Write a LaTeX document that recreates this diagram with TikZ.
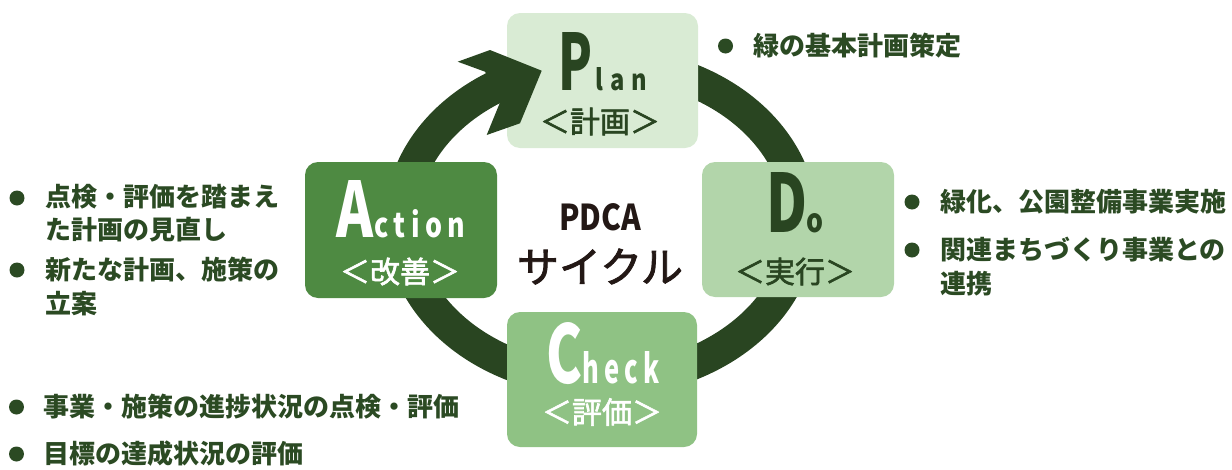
\documentclass[tikz,border=0pt]{standalone}
\usepackage{fontspec}
\setmainfont{Noto Sans CJK JP}
\newfontfamily\medfont[FakeBold=2]{Noto Sans CJK JP}
\usepackage{graphicx}
\definecolor{ringcol}{HTML}{294521}
\definecolor{planfill}{HTML}{D9EBD4}
\definecolor{dofill}{HTML}{B2D5AA}
\definecolor{checkfill}{HTML}{8FC284}
\definecolor{actfill}{HTML}{4E8A42}
\definecolor{darktext}{HTML}{294521}
\definecolor{bullettext}{HTML}{2B4A23}
\definecolor{centertext}{HTML}{231815}
\begin{document}
\begin{tikzpicture}[x=1pt,y=1pt,
  ring/.style={draw=ringcol, line width=33pt},
  pdcabox/.style={rounded corners=13pt, inner sep=0, draw=none},
  letter/.style={anchor=base west, inner sep=0, font=\bfseries},
  jlabel/.style={anchor=center, inner sep=0, font=\medfont\fontsize{30}{30}\selectfont},
  bline/.style={anchor=west, inner sep=0, text=bullettext, font=\bfseries\fontsize{26}{26}\selectfont},
  bdot/.style={circle, fill=bullettext, minimum size=15pt, inner sep=0}]
\useasboundingbox (0,0) rectangle (1232,-469);
% ring
\coordinate (ringstart) at (501,-84.3);
\draw[ring] (ringstart) arc[start angle=120, end angle=460, x radius=200, y radius=159];
% boxes
\node[pdcabox, fill=planfill, minimum width=191pt, minimum height=135pt] (plan) at (602.5,-80.5) {};
\node[pdcabox, fill=dofill, minimum width=192pt, minimum height=135pt] (do) at (798,-229.5) {};
\node[pdcabox, fill=actfill, minimum width=192pt, minimum height=136pt] (act) at (401,-230) {};
\node[pdcabox, fill=checkfill, minimum width=190pt, minimum height=135pt] (check) at (602,-379.5) {};
% arrowhead
\fill[ringcol] (457.7,-61.7) -- (490,-50) -- (541.7,-70.7) -- (520,-123.3) -- (486.7,-135) -- (501.7,-98.3) -- (485,-71.7) -- cycle;
% box texts
\node[letter, text=darktext] (pP) at (558,-90) {\resizebox{34pt}{58pt}{P}};
\node[letter, text=darktext] (pl) at (595,-90) {\resizebox{52pt}{23pt}{l\kern3pt a\kern3pt n}};
\node[jlabel, text=darktext] (pj) at (600,-121.5) {＜計画＞};
\node[letter, text=darktext] (dD) at (766,-232) {\resizebox{41pt}{60pt}{D}};
\node[letter, text=darktext] (dl) at (806.5,-232) {\resizebox{17pt}{19pt}{o}};
\node[jlabel, text=darktext] (dj) at (795,-271.5) {＜実行＞};
\node[letter, text=white] (aA) at (336.5,-237) {\resizebox{37pt}{57pt}{A}};
\node[letter, text=white] (al) at (374,-237) {\resizebox{91pt}{28pt}{c\kern2pt t\kern2pt i\kern2pt o\kern2pt n}};
\node[jlabel, text=white] (aj) at (400,-271.5) {＜改善＞};
\node[letter, text=white] (cC) at (546,-383) {\resizebox{36pt}{61pt}{C}};
\node[letter, text=white] (cl) at (582,-383) {\resizebox{77pt}{32pt}{h\kern2pt e\kern2pt c\kern2pt k}};
\node[jlabel, text=white] (cj) at (602,-412) {＜評価＞};
% centre
\node[anchor=base, inner sep=0, text=centertext, font=\bfseries] (pdca) at (600,-230) {\resizebox{82pt}{27pt}{PDCA}};
\node[anchor=center, inner sep=0, text=centertext, font=\medfont\fontsize{42}{42}\selectfont] (cycle) at (600,-266.5) {サイクル};
% bullets
\node[bdot] (b1) at (17,-198) {};
\node[bline] (t1a) at (45,-197) {点検・評価を踏まえ};
\node[bline] (t1b) at (45,-230) {た計画の見直し};
\node[bdot] (b2) at (17,-270) {};
\node[bline] (t2a) at (45,-270) {新たな計画、施策の};
\node[bline] (t2b) at (45,-304) {立案};
\node[bdot] (b3) at (16.5,-407) {};
\node[bline] (t3) at (43,-407) {事業・施策の進捗状況の点検・評価};
\node[bdot] (b4) at (16.5,-454) {};
\node[bline] (t4) at (43,-454) {目標の達成状況の評価};
\node[bdot] (b5) at (725.5,-46) {};
\node[bline] (t5) at (753,-46) {緑の基本計画策定};
\node[bdot] (b6) at (912,-202) {};
\node[bline] (t6) at (940,-202) {緑化、公園整備事業実施};
\node[bdot] (b7) at (912,-250) {};
\node[bline] (t7a) at (940,-250) {関連まちづくり事業との};
\node[bline] (t7b) at (940,-284) {連携};
\end{tikzpicture}
\end{document}
